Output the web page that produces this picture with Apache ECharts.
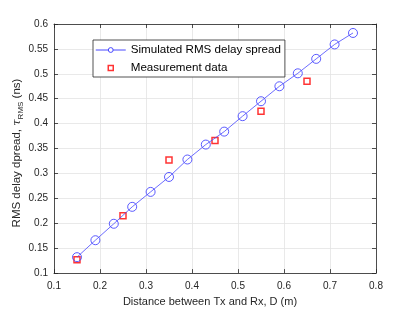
<!DOCTYPE html>
<html><head><meta charset="utf-8">
<script src="https://cdn.jsdelivr.net/npm/echarts@6/dist/echarts.min.js"></script>
<style>html,body{margin:0;padding:0;background:#fff}#c{width:415px;height:312px}</style>
</head><body><div id="c"></div>
<script>
const simX = [0.15,0.19,0.23,0.27,0.31,0.35,0.39,0.43,0.47,0.51,0.55,0.59,0.63,0.67,0.71,0.75];
const simY = [0.132,0.166,0.199,0.233,0.263,0.293,0.328,0.358,0.384,0.415,0.445,0.475,0.501,0.530,0.559,0.582];
const measX = [0.15,0.25,0.35,0.45,0.55,0.65];
const measY = [0.127,0.215,0.327,0.366,0.425,0.485];
const simName = 'Simulated RMS delay spread';
const measName = 'Measurement data';
const xTitle = 'Distance between Tx and Rx, D (m)';

const chart = echarts.init(document.getElementById('c'), null, {renderer:'canvas'});
const font = 'Liberation Sans, Helvetica, Arial, sans-serif';
const axC = '#262626';
const fmt = v => String(+v.toFixed(2));
const baseAxis = {
  axisLine:{show:true,onZero:false,lineStyle:{color:axC,width:0.8}},
  axisTick:{show:true,inside:true,length:4,lineStyle:{color:axC,width:0.8}},
  splitLine:{show:false},
  axisLabel:{show:false}
};
chart.setOption({
  animation:false,
  textStyle:{fontFamily:font},
  grid:{left:54,right:39,top:24,bottom:34,containLabel:false},
  legend:{
    orient:'vertical', left:93, top:40, width:195,
    backgroundColor:'#fff', borderColor:axC, borderWidth:0.8, borderRadius:0,
    padding:[4,4,3,2], itemGap:6, itemWidth:30, itemHeight:6,
    textStyle:{fontSize:11.6,color:'#000',fontFamily:font},
    data:[
      {name:simName, itemStyle:{color:'#fff',borderColor:'#4848ff',borderWidth:1},
       lineStyle:{color:'#4848ff',width:1}},
      {name:measName, icon:'path://M0,0M30,6M12.5,0.5h5v5h-5z',
       itemStyle:{color:'#fff',borderColor:'#ff0000',borderWidth:1.5}}
    ]
  },
  graphic:[{
    type:'text', x:17, y:153, rotation:Math.PI/2,
    style:{
      text:'{a|RMS delay dpread, }{i|τ}{s|RMS}{a| (ns)}',
      align:'center', verticalAlign:'middle',
      fill:axC, font:'11.5px '+font,
      rich:{a:{fontSize:11.5,fill:axC,fontFamily:font,lineHeight:16},
            i:{fontSize:11.5,fill:axC,fontStyle:'italic',fontFamily:'DejaVu Serif',lineHeight:16},
            s:{fontSize:8,fill:axC,fontFamily:font,lineHeight:16,verticalAlign:'bottom',padding:[5,0,0,0]}}
    }
  }],
  xAxis:[
    {type:'value',min:0.1,max:0.8,interval:0.1,position:'bottom',
     name:xTitle,nameLocation:'middle',nameGap:22,
     nameTextStyle:{fontSize:11,color:axC,fontFamily:font,padding:[0,10,0,0]},
     axisLine:{show:true,onZero:false,lineStyle:{color:axC,width:0.8}},
     axisTick:{show:true,inside:true,length:4,lineStyle:{color:axC,width:0.8}},
     axisLabel:{show:true,fontSize:10,color:axC,formatter:fmt,margin:8},
     splitLine:{show:true,lineStyle:{color:'#e3e3e3',width:0.8}}},
    Object.assign({type:'value',min:0.1,max:0.8,interval:0.1,position:'top'}, baseAxis)
  ],
  yAxis:[
    {type:'value',min:0.1,max:0.6,interval:0.05,position:'left',
     axisLine:{show:true,onZero:false,lineStyle:{color:axC,width:0.8}},
     axisTick:{show:true,inside:true,length:4,lineStyle:{color:axC,width:0.8}},
     axisLabel:{show:true,fontSize:10,color:axC,formatter:fmt,margin:6},
     splitLine:{show:true,lineStyle:{color:'#e3e3e3',width:0.8}}},
    Object.assign({type:'value',min:0.1,max:0.6,interval:0.05,position:'right'}, baseAxis)
  ],
  series:[
    {name:simName,type:'line',xAxisIndex:0,yAxisIndex:0,
     data:simX.map((x,i)=>[x,simY[i]]),
     symbol:'circle',symbolSize:9,showAllSymbol:true,
     lineStyle:{color:'#4848ff',width:0.8},
     itemStyle:{color:'rgba(255,255,255,0)',borderColor:'#4848ff',borderWidth:0.9},
     emphasis:{disabled:true}},
    {name:measName,type:'scatter',xAxisIndex:0,yAxisIndex:0,
     data:measX.map((x,i)=>[x,measY[i]]),
     symbol:'rect',symbolSize:6,
     itemStyle:{color:'#fff',borderColor:'#ff0000',borderWidth:1.5},
     emphasis:{disabled:true}}
  ]
});
</script></body></html>
